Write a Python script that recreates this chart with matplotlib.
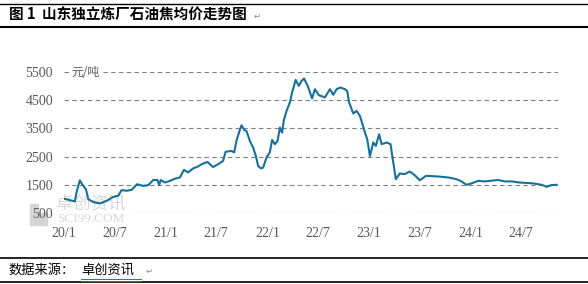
import numpy as np
import pandas as pd
import matplotlib
matplotlib.use("Agg")
import matplotlib.pyplot as plt
from matplotlib.lines import Line2D
from matplotlib.patches import Rectangle

plt.rcParams['font.family'] = ['Noto Sans CJK SC', 'DejaVu Sans']

# petroleum coke average price (yuan/ton)
dates = ['2020-01-04', '2020-02-09', '2020-02-15', '2020-02-27', '2020-03-08', '2020-03-20',
         '2020-03-28', '2020-04-15', '2020-05-09', '2020-06-02', '2020-06-26', '2020-07-14',
         '2020-07-26', '2020-08-13', '2020-08-31', '2020-09-20', '2020-10-12', '2020-10-30',
         '2020-11-17', '2020-12-02', '2020-12-08', '2020-12-14', '2020-12-29', '2021-01-16',
         '2021-02-03', '2021-02-21', '2021-03-07', '2021-03-22', '2021-04-09', '2021-04-27',
         '2021-05-10', '2021-05-31', '2021-06-20', '2021-07-08', '2021-07-26', '2021-08-04',
         '2021-08-25', '2021-09-04', '2021-09-12', '2021-09-21', '2021-09-30', '2021-10-10',
         '2021-10-18', '2021-10-30', '2021-11-11', '2021-11-21', '2021-11-29', '2021-12-09',
         '2021-12-17', '2021-12-29', '2022-01-10', '2022-01-18', '2022-01-28', '2022-02-07',
         '2022-02-15', '2022-02-23', '2022-03-01', '2022-03-11', '2022-03-23', '2022-03-31',
         '2022-04-13', '2022-04-24', '2022-05-04', '2022-05-13', '2022-05-26', '2022-06-11',
         '2022-06-21', '2022-07-05', '2022-07-27', '2022-08-14', '2022-08-26', '2022-09-07',
         '2022-09-21', '2022-10-07', '2022-10-15', '2022-10-22', '2022-11-06', '2022-11-18',
         '2022-11-30', '2022-12-10', '2022-12-18', '2022-12-26', '2023-01-05', '2023-01-17',
         '2023-01-26', '2023-02-07', '2023-02-16', '2023-03-06', '2023-03-20', '2023-03-27',
         '2023-04-08', '2023-04-22', '2023-05-10', '2023-05-28', '2023-06-15', '2023-07-03',
         '2023-07-26', '2023-09-13', '2023-10-13', '2023-11-12', '2023-11-30', '2023-12-18',
         '2024-01-05', '2024-01-29', '2024-02-22', '2024-03-11', '2024-04-10', '2024-05-04',
         '2024-05-28', '2024-06-27', '2024-08-14', '2024-09-13', '2024-10-01', '2024-10-19',
         '2024-11-06']
prices = [1000, 910, 1230, 1660, 1490, 1340,
          990, 890, 840, 930, 1070, 1110,
          1310, 1290, 1320, 1520, 1460, 1490,
          1670, 1670, 1490, 1670, 1580, 1640,
          1720, 1760, 2030, 1940, 2080, 2150,
          2230, 2310, 2130, 2230, 2350, 2670,
          2700, 2650, 3060, 3350, 3610, 3440,
          3410, 3060, 2820, 2520, 2170, 2080,
          2110, 2470, 2650, 3090, 2940, 3060,
          3530, 3350, 3770, 4120, 4420, 4770,
          5220, 5010, 5180, 5270, 5010, 4560,
          4890, 4680, 4600, 4890, 4690, 4890,
          4950, 4890, 4830, 4420, 4030, 4120,
          3940, 3620, 3350, 3120, 2520, 3000,
          2880, 3290, 2940, 3000, 2940, 2470,
          1700, 1900, 1880, 1970, 1840, 1660,
          1820, 1790, 1760, 1700, 1620, 1500,
          1550, 1640, 1620, 1640, 1670, 1620,
          1620, 1580, 1550, 1500, 1430, 1490,
          1500]

yticks = [500, 1500, 2500, 3500, 4500, 5500]
xtick_dates = ['2020-01-01', '2020-07-01', '2021-01-01', '2021-07-01', '2022-01-01',
               '2022-07-01', '2023-01-01', '2023-07-01', '2024-01-01', '2024-07-01']
xtick_labels = ['20/1', '20/7', '21/1', '21/7', '22/1', '22/7', '23/1', '23/7', '24/1', '24/7']

W, H = 588, 284
fig = plt.figure(figsize=(W / 100, H / 100), dpi=100)
fig.patch.set_facecolor('white')

# watermark (behind everything)
fig.patches.append(Rectangle((30 / W, 1 - 225 / H), 8 / W, 21 / H, transform=fig.transFigure,
                             color='#d4d4d4', zorder=-2))
fig.patches.append(Rectangle((39 / W, 1 - 225 / H), 8 / W, 12 / H, transform=fig.transFigure,
                             color='#d4d4d4', zorder=-2))
fig.text(56 / W, 1 - 203 / H, '卓创资讯', fontsize=12.5, color='#d8d8d8', va='center', zorder=-2)
fig.text(57 / W, 1 - 219 / H, 'SCI99.COM', fontsize=9.5, color='#d8d8d8', va='center',
         family='Liberation Serif', zorder=-2)

ax = fig.add_axes([64 / W, 1 - 213 / H, (558 - 64) / W, 141 / H])
ax.patch.set_alpha(0)
ax.plot(pd.to_datetime(dates), prices, color='#17709a', lw=1.5)

ax.set_ylim(500, 5500)
ax.set_yticks(yticks)
ax.set_xlim(pd.Timestamp('2020-01-01'), pd.Timestamp('2024-11-11'))
ax.set_xticks(pd.to_datetime(xtick_dates))
ax.set_xticklabels(xtick_labels)
for s in ax.spines.values():
    s.set_visible(False)
ax.tick_params(length=0, colors='#595959', labelsize=10)
ax.tick_params(axis='y', pad=8)
ax.tick_params(axis='x', pad=10)
for lab in ax.get_xticklabels() + ax.get_yticklabels():
    lab.set_family('Liberation Serif')
ax.grid(axis='y', color='#7f7f7f', ls=(0, (4, 3)), lw=0.8)
ax.set_axisbelow(True)

# unit label over the top gridline
fig.text(71 / W, 1 - 72 / H, '元/吨', fontsize=8.5, color='#595959', va='center',
         ha='left', bbox=dict(facecolor='white', edgecolor='none', pad=0.5))

# frame lines
for y, lw in [(4, 1.0), (27, 1.5), (258, 1.2), (282, 1.2)]:
    fig.add_artist(Line2D([0, 1], [1 - y / H, 1 - y / H], color='black', lw=lw))

fig.text(9 / W, 1 - 15 / H, '图 1  山东独立炼厂石油焦均价走势图', fontsize=10.5,
         fontweight='bold', va='center', ha='left')
fig.text(254 / W, 1 - 16 / H, '↵', fontsize=6, color='#888888', va='center',
         family=['DejaVu Sans'])

fig.text(8 / W, 1 - 270 / H, '数据来源：', fontsize=9.5, va='center', ha='left')
fig.text(81 / W, 1 - 270 / H, '卓创资讯', fontsize=9.5, va='center', ha='left')
for y in (279, 281):
    fig.add_artist(Line2D([81 / W, 141 / W], [1 - y / H, 1 - y / H], color='#3a66c4', lw=0.7))
fig.text(146 / W, 1 - 271 / H, '↵', fontsize=6, color='#888888', va='center',
         family=['DejaVu Sans'])

fig.savefig('out.png', dpi=100)
